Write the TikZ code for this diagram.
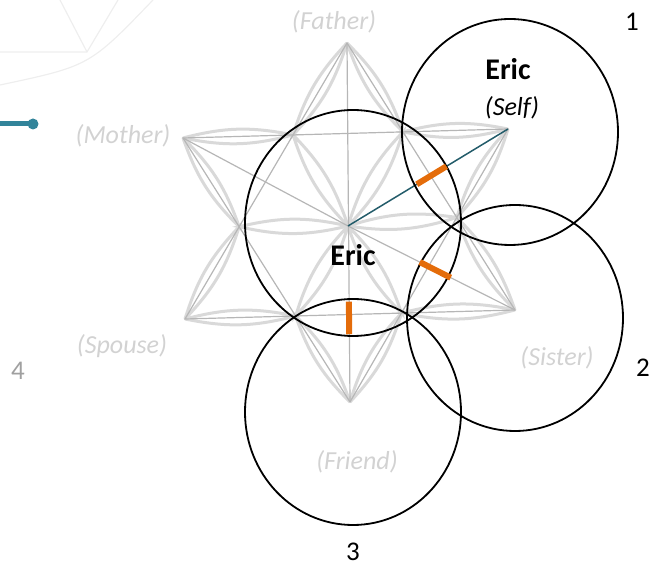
\documentclass[tikz,border=0pt]{standalone}
\usepackage{fontspec}
\setmainfont{Carlito}
\usetikzlibrary{calc}
\definecolor{petalgrey}{RGB}{217,217,217}
\definecolor{linegrey}{RGB}{182,182,182}
\definecolor{labelgrey}{RGB}{210,210,210}
\definecolor{numgrey}{RGB}{160,160,160}
\definecolor{ghost}{RGB}{238,238,238}
\definecolor{tealdark}{RGB}{35,92,106}
\definecolor{tealmark}{RGB}{50,132,154}
\definecolor{bondorange}{RGB}{228,108,10}

\begin{document}
\begin{tikzpicture}[x=1pt, y=1pt,
        every node/.style={inner sep=0pt, align=center},
        role/.style={text=labelgrey, font=\fontsize{26}{30}\selectfont\itshape},
        who/.style={font=\fontsize{30}{34}\selectfont\bfseries},
        num/.style={font=\fontsize{27}{30}\selectfont},
        guide/.style={draw=linegrey, line width=1.2pt},
        petal/.style={draw=petalgrey, line width=3pt},
        ring/.style={draw=black, line width=1.8pt},
        bond/.style={draw=bondorange, line width=6pt}
      ]
      \useasboundingbox (0,0) rectangle (662,567);

      % faded figure from the previous slide and the progress marker
      \begin{scope}
        \clip (0,0) rectangle (662,567);
        \coordinate (gh) at (87,515);
        \draw[ghost, line width=1.2pt] (0,515) -- (gh) -- (118,567);
        \draw[ghost, line width=1.2pt] (60,567) -- (gh);
        \draw[ghost, line width=1.2pt] (0,482) .. controls (89.5,501) .. (153,567);
      \end{scope}
      \coordinate (mark) at (33,443);
      \draw[tealmark, line width=5pt] (0,443) -- (mark);
      \fill[tealmark] (mark) circle (5.5);

      % star tips and centre
      \coordinate (ctr) at (348,341);
      \coordinate (top) at (347,524);
      \coordinate (ul)  at (183,429);
      \coordinate (ur)  at (508,438);
      \coordinate (ll)  at (185,248);
      \coordinate (lr)  at (515,257);
      \coordinate (bot) at (350,165);
      % inner hexagon
      \coordinate (ih1) at (intersection of top--ll and ul--ur);
      \coordinate (ih2) at (intersection of top--lr and ul--ur);
      \coordinate (ih3) at (intersection of top--ll and ul--bot);
      \coordinate (ih4) at (intersection of top--lr and ur--bot);
      \coordinate (ih5) at (intersection of ll--lr and ul--bot);
      \coordinate (ih6) at (intersection of ll--lr and ur--bot);

      \foreach \a/\b in {ctr/ih1, ctr/ih2, ctr/ih3, ctr/ih4, ctr/ih5, ctr/ih6,
                         top/ih1, top/ih2, ul/ih1, ul/ih3, ll/ih3, ll/ih5,
                         bot/ih5, bot/ih6, lr/ih6, lr/ih4, ur/ih4, ur/ih2}
        \draw[petal] (\a) to[bend left=13] (\b) to[bend left=13] (\a);

      \draw[guide] (top) -- (ll) -- (lr) -- cycle;
      \draw[guide] (ul) -- (ur) -- (bot) -- cycle;
      \draw[guide] (top) -- (bot);
      \draw[guide] (ul) -- (ctr) -- (lr);
      \draw[tealdark, line width=1.5pt] (ctr) -- (ur);

      % circles of the people
      \coordinate (cEric)   at (353,344);
      \coordinate (cSelf)   at (510,435);
      \coordinate (cSister) at (515,249);
      \coordinate (cFriend) at (353,155);
      \foreach \c in {cEric, cSelf, cSister, cFriend}
        \draw[ring] (\c) ellipse [x radius=108, y radius=113];

      \draw[bond] ($(ctr)!0.43!(ur)$) -- ($(ctr)!0.615!(ur)$);
      \draw[bond] ($(ctr)!0.43!(lr)$) -- ($(ctr)!0.615!(lr)$);
      \draw[bond] ($(ctr)!0.43!(bot)$) -- ($(ctr)!0.615!(bot)$);

      \node[role] (father) at (334,545) {(Father)};
      \node[role] (mother) at (123,431) {(Mother)};
      \node[role] (spouse) at (122,221) {(Spouse)};
      \node[role] (sister) at (557,209) {(Sister)};
      \node[role] (friend) at (357,105) {(Friend)};
      \node[who] (eric) at (353,312) {Eric};
      \node[who] (ericself) at (508,498) {Eric};
      \node[role, text=black] (self) at (512,459) {(Self)};
      \node[num] (n1) at (632,545) {1};
      \node[num] (n2) at (643,199) {2};
      \node[num] (n3) at (353,15) {3};
      \node[num, text=numgrey] (n4) at (18,196) {4};
    \end{tikzpicture}
\end{document}
